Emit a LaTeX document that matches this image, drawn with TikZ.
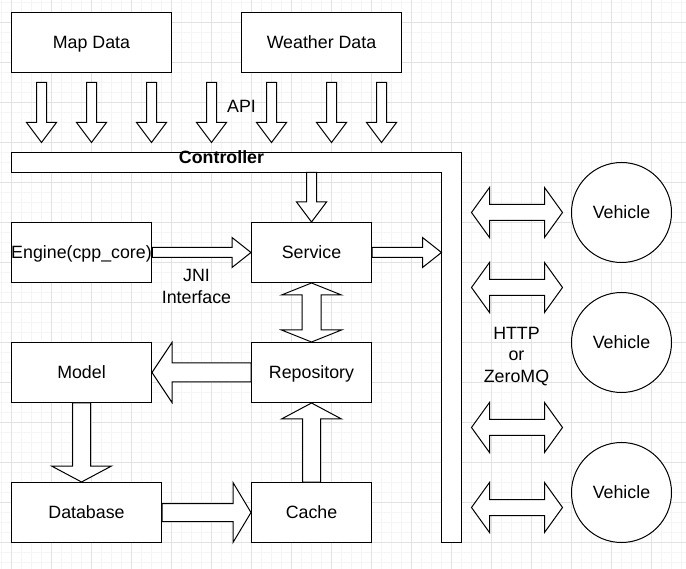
\documentclass[tikz,border=0pt]{standalone}
\usepackage{fontspec}
\setmainfont{Liberation Sans}
\usetikzlibrary{calc}

\definecolor{gridminor}{RGB}{245,245,245}
\definecolor{gridmajor}{RGB}{226,226,226}

% Block arrow: #1 tail, #2 tip, #3 half shaft width, #4 half head width, #5 head length
\newcommand{\blockarrow}[5]{%
  \coordinate (bas) at (#1);
  \coordinate (bat) at (#2);
  \coordinate (bah) at ($(bat)!#5!(bas)$);
  \draw[fatarrow] ($(bas)!#3!90:(bat)$) -- ($(bah)!#3!-90:(bas)$) -- ($(bah)!#4!-90:(bas)$)
    -- (bat) -- ($(bah)!#4!90:(bas)$) -- ($(bah)!#3!90:(bas)$) -- ($(bas)!#3!-90:(bat)$) -- cycle;
}
% Double-headed block arrow, same arguments
\newcommand{\twowayarrow}[5]{%
  \coordinate (bas) at (#1);
  \coordinate (bat) at (#2);
  \coordinate (bah) at ($(bat)!#5!(bas)$);
  \coordinate (bag) at ($(bas)!#5!(bat)$);
  \draw[fatarrow] (bas) -- ($(bag)!#4!90:(bat)$) -- ($(bag)!#3!90:(bat)$)
    -- ($(bah)!#3!-90:(bas)$) -- ($(bah)!#4!-90:(bas)$) -- (bat)
    -- ($(bah)!#4!90:(bas)$) -- ($(bah)!#3!90:(bas)$)
    -- ($(bag)!#3!-90:(bat)$) -- ($(bag)!#4!-90:(bat)$) -- cycle;
}

\tikzset{
  box/.style={draw=black, fill=white, line width=1pt, minimum width=#1,
    minimum height=60pt, inner sep=0pt, text height=12.7pt, text depth=0pt},
  box/.default=120pt,
  vehicle/.style={draw=black, fill=white, line width=1pt, circle,
    minimum size=100pt, inner sep=0pt, text height=12.7pt, text depth=0pt},
  fatarrow/.style={draw=black, fill=white, line width=1pt, line join=miter},
  lbl/.style={align=center, inner sep=0pt},
  minorline/.style={draw=gridminor, line width=1pt},
  majorline/.style={draw=gridmajor, line width=1pt},
}

\begin{document}
\begin{tikzpicture}[x=1pt, y=-1pt,
  every node/.style={font=\fontsize{17.8}{21.3}\selectfont}]
  \useasboundingbox (0,0) rectangle (686,569);
  \fill[white] (0,0) rectangle (686,569);

\begin{scope}[shift={(0.5,0.5)}]
  % background grid
  \foreach \gx in {1,11,...,681} {\draw[minorline] (\gx,-1) -- (\gx,570);}
  \foreach \gy in {2,12,...,562} {\draw[minorline] (-1,\gy) -- (687,\gy);}
  \foreach \gx in {11,51,...,651} {\draw[majorline] (\gx,-1) -- (\gx,570);}
  \foreach \gy in {22,62,...,542} {\draw[majorline] (-1,\gy) -- (687,\gy);}

  % controller bar (L-shaped)
  \coordinate (ctrlTL) at (11,152);
  \coordinate (ctrlIn) at (441,172);
  \coordinate (ctrlBR) at (461,542);
  \draw[fatarrow] (ctrlTL) -- (ctrlTL -| ctrlBR) -- (ctrlBR) -- (ctrlIn |- ctrlBR)
    -- (ctrlIn) -- (ctrlTL |- ctrlIn) -- cycle;
  \node[font=\fontsize{17.8}{21.3}\selectfont\bfseries, inner sep=0pt,
    text height=12.7pt, text depth=0pt] (ctrl) at (221,157) {Controller};

  % data sources
  \node[box=160pt] (map) at (91,42) {Map Data};
  \node[box=160pt] (weather) at (321,42) {Weather Data};

  % components
  \node[box=140pt] (engine) at (81,252) {Engine(cpp\_core)};
  \node[box] (service) at (311,252) {Service};
  \node[box=140pt] (model) at (81,372) {Model};
  \node[box] (repo) at (311,372) {Repository};
  \node[box=150pt] (db) at (86,512) {Database};
  \node[box] (cache) at (311,512) {Cache};

  % vehicles
  \node[vehicle] (veh1) at (621,212) {Vehicle};
  \node[vehicle] (veh2) at (621,342) {Vehicle};
  \node[vehicle] (veh3) at (621,492) {Vehicle};

  % labels
  \node[lbl, text height=12.7pt, text depth=0pt] (api) at (241,106) {API};
  \node[lbl] (jni) at (196,286) {JNI\\Interface};
  \node[lbl] (proto) at (516,356) {HTTP\\or\\ZeroMQ};

  % API feeds into the controller
  \foreach \ax in {41,91,151,211,271,331,381} {%
    \blockarrow{\ax,82}{\ax,142}{5pt}{15pt}{20pt}}

  % internal flows
  \blockarrow{engine.east}{service.west}{5pt}{15pt}{19pt}
  \blockarrow{service.east}{service.east -| ctrlIn}{5pt}{15pt}{19pt}
  \blockarrow{service.north |- ctrlIn}{service.north}{5pt}{15pt}{20pt}
  \twowayarrow{service.south}{repo.north}{9.5pt}{30pt}{12pt}
  \blockarrow{repo.west}{model.east}{9.5pt}{30pt}{20pt}
  \blockarrow{model.south}{model.south |- db.north}{9pt}{30pt}{16pt}
  \blockarrow{db.east}{cache.west}{9pt}{30pt}{18pt}
  \blockarrow{cache.north}{repo.south}{9pt}{30pt}{16pt}

  % links to the vehicles
  \foreach \vy in {212,287,427,507} {%
    \twowayarrow{471,\vy}{562,\vy}{8pt}{25pt}{18pt}}
\end{scope}
\end{tikzpicture}
\end{document}
